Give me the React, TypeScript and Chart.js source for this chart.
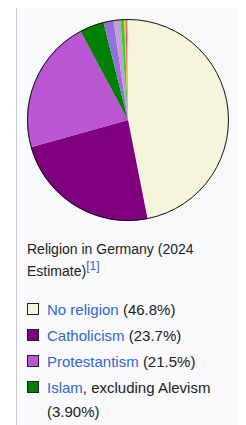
import React, { useEffect, useRef } from "react";
import { Chart, registerables } from "chart.js";

Chart.register(...registerables);

const categories = [
  "No religion",
  "Catholicism",
  "Protestantism",
  "Islam",
  "Orthodox Christianity",
  "Other Christians",
  "Alevism",
  "Buddhism",
  "Judaism",
  "Other",
];
const values = [46.8, 23.7, 21.5, 3.9, 1.6, 1.1, 0.6, 0.2, 0.2, 0.2];
const colors = [
  "#f5f5dc",
  "#800080",
  "#ba55d3",
  "#008000",
  "#9370db",
  "#c0a0d0",
  "#32cd32",
  "#ffd700",
  "#e04040",
  "#c8c8c8",
];

const legendItems = [
  { link: "No religion", rest: "", pct: "(46.8%)", color: "#f5f5dc" },
  { link: "Catholicism", rest: "", pct: "(23.7%)", color: "#800080" },
  { link: "Protestantism", rest: "", pct: "(21.5%)", color: "#ba55d3" },
  { link: "Islam", rest: ", excluding Alevism", pct: "(3.90%)", color: "#008000" },
];

const outlinePlugin = {
  id: "outline",
  afterDatasetsDraw(chart: any) {
    const arc = chart.getDatasetMeta(0).data[0];
    if (!arc) return;
    const ctx = chart.ctx;
    ctx.save();
    ctx.beginPath();
    ctx.arc(arc.x, arc.y, arc.outerRadius - 0.5, 0, Math.PI * 2);
    ctx.strokeStyle = "#111";
    ctx.lineWidth = 1;
    ctx.stroke();
    ctx.restore();
  },
};

export default function App() {
  const ref = useRef<HTMLCanvasElement>(null);
  useEffect(() => {
    if (!ref.current) return;
    const chart = new Chart(ref.current, {
      type: "pie",
      data: {
        labels: categories,
        datasets: [
          {
            data: values,
            backgroundColor: colors,
            borderWidth: 0,
          },
        ],
      },
      options: {
        responsive: false,
        animation: false,
        devicePixelRatio: 1,
        layout: { padding: 0 },
        plugins: {
          legend: { display: false },
          tooltip: { enabled: false },
        },
      },
      plugins: [outlinePlugin],
    });
    return () => chart.destroy();
  }, []);

  const font = "'Liberation Sans', Arial, sans-serif";
  return (
    <div
      style={{
        marginLeft: 8,
        marginTop: -1,
        width: 223,
        height: 440,
        border: "1px solid #c8ccd1",
        background: "#f8f9fa",
        fontFamily: font,
        fontSize: 14,
        color: "#202122",
      }}
    >
      <canvas
        ref={ref}
        width={202}
        height={202}
        style={{ display: "block", marginLeft: 10, marginTop: 11, width: 202, height: 202 }}
      />
      <div style={{ paddingLeft: 10, marginTop: 17, lineHeight: "22px" }}>
        Religion in Germany (2024 Estimate)
        <sup style={{ fontSize: 12, color: "#3366cc", lineHeight: 0 }}>[1]</sup>
      </div>
      <div style={{ paddingLeft: 10, marginTop: 16, paddingRight: 4, fontSize: 15 }}>
        {legendItems.map((it, i) => (
          <div
            key={i}
            style={{ position: "relative", paddingLeft: 20, lineHeight: "24px", marginBottom: 2 }}
          >
            <span
              style={{
                position: "absolute",
                left: 0,
                top: 5,
                width: 10,
                height: 10,
                border: "1px solid #202122",
                background: it.color,
              }}
            />
            <span style={{ color: "#3366cc" }}>{it.link}</span>
            {it.rest} {it.pct}
          </div>
        ))}
      </div>
    </div>
  );
}
